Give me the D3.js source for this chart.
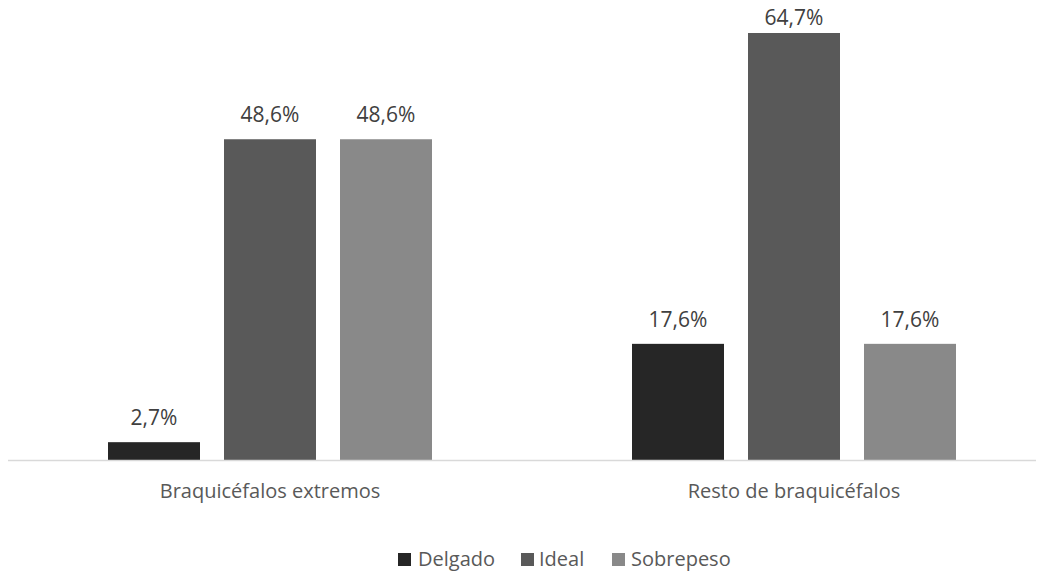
<!DOCTYPE html>
<html><head><meta charset="utf-8">
<script src="https://cdn.jsdelivr.net/npm/d3@7"></script>
<style>body{margin:0;background:#fff}svg{display:block}</style>
</head><body>
<script>
const categories = ["Braquicéfalos extremos", "Resto de braquicéfalos"];
const series = ["Delgado", "Ideal", "Sobrepeso"];
const delgado = [2.7, 17.6];
const ideal = [48.6, 64.7];
const sobrepeso = [48.6, 17.6];
const labels = [["2,7%", "48,6%", "48,6%"], ["17,6%", "64,7%", "17,6%"]];
const colors = ["#262626", "#595959", "#898989"];

const W = 1042, H = 571;
const svg = d3.select("body").append("svg").attr("width", W).attr("height", H);
const font = "'Open Sans', sans-serif";

const x0 = d3.scaleBand().domain(categories).range([8, 1056]).paddingInner(0).paddingOuter(0);
const x1 = d3.scaleBand().domain(series).range([-162, 162]).paddingInner(24/116).paddingOuter(0);
const y = d3.scaleLinear().domain([0, 64.7]).range([460, 33]);

const vals = [delgado, ideal, sobrepeso];
const data = [];
categories.forEach((c, ci) => series.forEach((s, si) => data.push({c, s, v: vals[si][ci], lab: labels[ci][si], color: colors[si]})));

const g = svg.append("g");
g.selectAll("rect.bar").data(data).join("rect").attr("class", "bar")
  .attr("x", d => x0(d.c) + x0.bandwidth()/2 + x1(d.s))
  .attr("width", x1.bandwidth())
  .attr("y", d => y(d.v))
  .attr("height", d => y(0) - y(d.v))
  .attr("fill", d => d.color);

g.selectAll("text.lab").data(data).join("text").attr("class", "lab")
  .attr("x", d => x0(d.c) + x0.bandwidth()/2 + x1(d.s) + x1.bandwidth()/2)
  .attr("y", d => Math.max(y(d.v) - 17, 25))
  .attr("text-anchor", "middle")
  .attr("font-family", font).attr("font-size", 21).attr("fill", "#404040")
  .text(d => d.lab);

svg.append("line").attr("x1", 8).attr("x2", 1036).attr("y1", 460.5).attr("y2", 460.5)
  .attr("stroke", "#d9d9d9").attr("stroke-width", 1.5);

svg.selectAll("text.cat").data(categories).join("text").attr("class", "cat")
  .attr("x", d => x0(d) + x0.bandwidth()/2).attr("y", 498)
  .attr("text-anchor", "middle").attr("font-family", font).attr("font-size", 20).attr("fill", "#595959")
  .text(d => d);

const legX = [398, 521, 612];
const lg = svg.selectAll("g.leg").data(series).join("g").attr("class", "leg")
  .attr("transform", (d, i) => `translate(${legX[i]},0)`);
lg.append("rect").attr("x", 0).attr("y", 553).attr("width", 13).attr("height", 13).attr("fill", (d, i) => colors[i]);
lg.append("text").attr("x", (d, i) => [20, 18, 19][i]).attr("y", 566).attr("font-family", font).attr("font-size", 20).attr("fill", "#595959").text(d => d);
</script>
</body></html>
